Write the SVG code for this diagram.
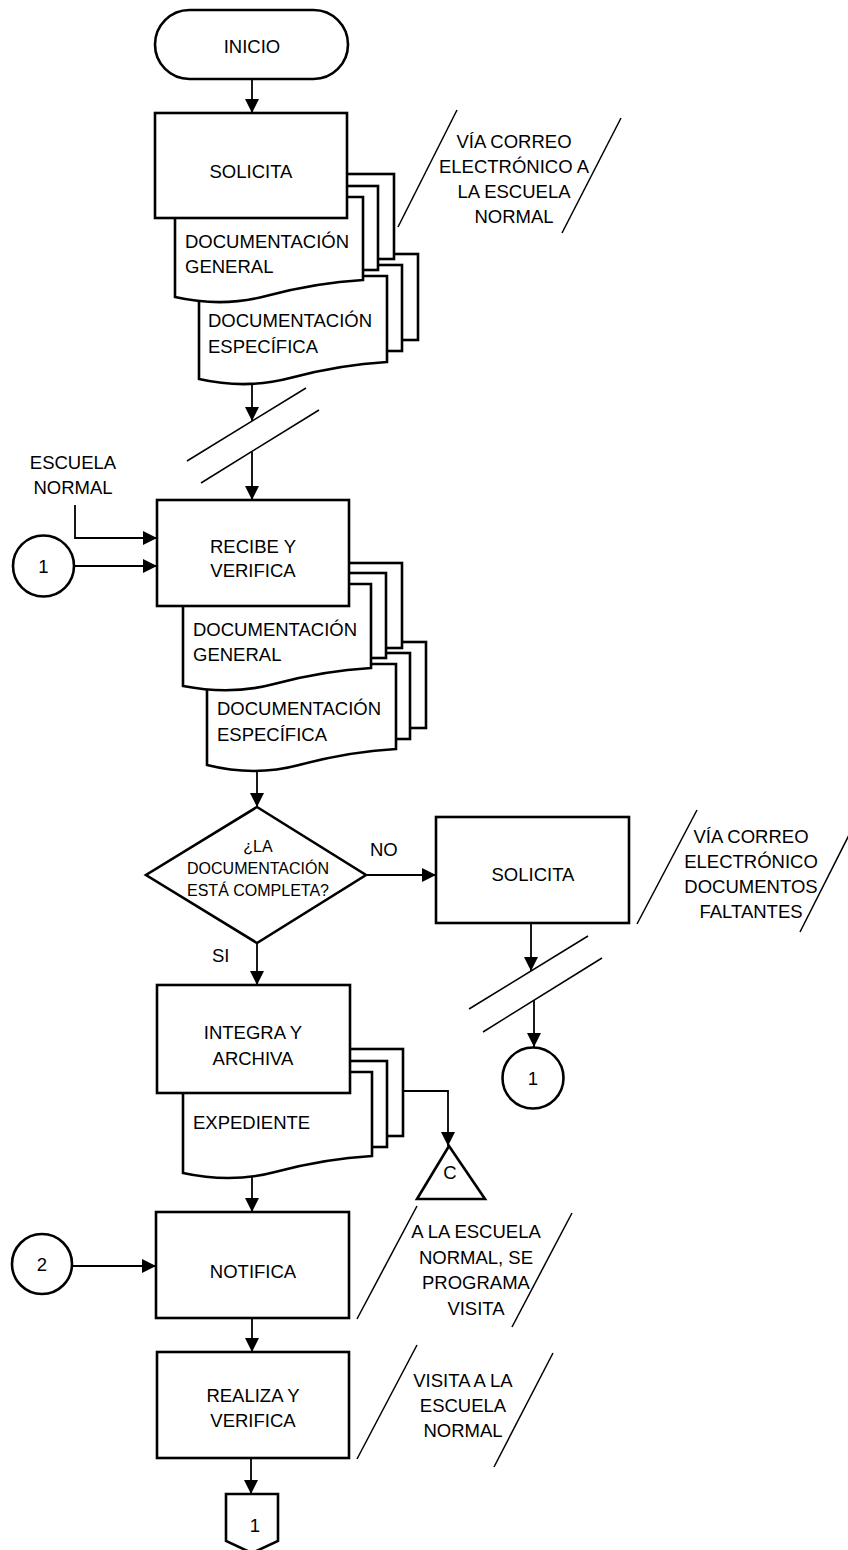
<svg xmlns="http://www.w3.org/2000/svg" width="848" height="1550" viewBox="0 0 848 1550">
<style>
.s{fill:#fff;stroke:#000;stroke-width:2.6}
.c{fill:none;stroke:#000;stroke-width:1.8}
.sl{fill:none;stroke:#000;stroke-width:1.5}
text{font-family:"Liberation Sans",Arial,sans-serif;font-size:18.5px;fill:#000}
.m{text-anchor:middle}
.d{font-size:16px}
</style>
<defs>
<marker id="a" markerUnits="userSpaceOnUse" markerWidth="14" markerHeight="14" refX="14" refY="7" orient="auto">
<path d="M0,0 L14,7 L0,14 Z" fill="#000"/>
</marker>
</defs>
<rect width="848" height="1550" fill="#fff"/>

<g id="connectors">
<line class="c" x1="252" y1="79" x2="252" y2="113" marker-end="url(#a)"/>
<line class="c" x1="252" y1="380" x2="252" y2="421" marker-end="url(#a)"/>
<line class="sl" x1="187" y1="461" x2="306" y2="388"/>
<line class="sl" x1="201" y1="483" x2="319" y2="410"/>
<line class="c" x1="252" y1="452" x2="252" y2="500" marker-end="url(#a)"/>
<polyline class="c" points="75,505 75,538 157,538" marker-end="url(#a)"/>
<line class="c" x1="74" y1="566" x2="157" y2="566" marker-end="url(#a)"/>
<line class="c" x1="257" y1="765" x2="257" y2="807" marker-end="url(#a)"/>
<line class="c" x1="366" y1="875" x2="436" y2="875" marker-end="url(#a)"/>
<line class="c" x1="257" y1="943" x2="257" y2="985" marker-end="url(#a)"/>
<line class="c" x1="531" y1="923" x2="531" y2="971" marker-end="url(#a)"/>
<line class="sl" x1="469" y1="1009" x2="588" y2="936"/>
<line class="sl" x1="483" y1="1032" x2="602" y2="958"/>
<line class="c" x1="534" y1="1000" x2="534" y2="1047" marker-end="url(#a)"/>
<polyline class="c" points="403,1091 448,1091 448,1146" marker-end="url(#a)"/>
<line class="c" x1="252" y1="1174" x2="252" y2="1212" marker-end="url(#a)"/>
<line class="c" x1="72" y1="1266" x2="156" y2="1266" marker-end="url(#a)"/>
<line class="c" x1="252" y1="1318" x2="252" y2="1352" marker-end="url(#a)"/>
<line class="c" x1="251" y1="1458" x2="251" y2="1494" marker-end="url(#a)"/>
</g>

<g id="inicio">
<rect class="s" x="155" y="10" width="193" height="69" rx="34.5"/>
<text class="m" x="252" y="53">INICIO</text>
</g>

<g id="docs1-especifica">
<rect class="s" x="215" y="254" width="203" height="86"/>
<rect class="s" x="207" y="265" width="195" height="86"/>
<path class="s" d="M199,276 L387,276 L387,362 C350,364 320,370 290,378 C260,386 230,386 199,379 Z"/>
<text x="208" y="327">DOCUMENTACIÓN</text>
<text x="208" y="353">ESPECÍFICA</text>
</g>
<g id="docs1-general">
<rect class="s" x="191" y="174" width="203" height="85"/>
<rect class="s" x="183" y="186" width="195" height="84"/>
<path class="s" d="M175,197 L363,197 L363,280 C326,282 296,288 266,296 C236,304 206,304 175,297 Z"/>
<text x="185" y="248">DOCUMENTACIÓN</text>
<text x="185" y="273">GENERAL</text>
</g>
<g id="solicita">
<rect class="s" x="155" y="113" width="192" height="105"/>
<text class="m" x="251" y="178">SOLICITA</text>
</g>
<g id="nota-correo">
<line class="sl" x1="398" y1="227" x2="457" y2="110"/>
<line class="sl" x1="621" y1="118" x2="562" y2="233"/>
<text class="m" x="514" y="148">VÍA CORREO</text>
<text class="m" x="514" y="173">ELECTRÓNICO A</text>
<text class="m" x="514" y="198">LA ESCUELA</text>
<text class="m" x="514" y="223">NORMAL</text>
</g>

<g id="escuela-normal">
<text class="m" x="73" y="469">ESCUELA</text>
<text class="m" x="73" y="494">NORMAL</text>
</g>
<g id="conector1-a">
<circle class="s" cx="43.5" cy="566" r="30.5" stroke-width="2.2"/>
<text class="m" x="43.5" y="573">1</text>
</g>

<g id="docs2-especifica">
<rect class="s" x="223" y="642" width="203" height="86"/>
<rect class="s" x="215" y="653" width="195" height="86"/>
<path class="s" d="M207,664 L396,664 L396,749 C359,751 329,757 299,765 C269,773 239,773 207,765 Z"/>
<text x="217" y="715">DOCUMENTACIÓN</text>
<text x="217" y="741">ESPECÍFICA</text>
</g>
<g id="docs2-general">
<rect class="s" x="199" y="563" width="203" height="85"/>
<rect class="s" x="191" y="573" width="195" height="85"/>
<path class="s" d="M183,584 L371,584 L371,668 C334,670 304,676 274,684 C244,692 214,692 183,686 Z"/>
<text x="193" y="636">DOCUMENTACIÓN</text>
<text x="193" y="661">GENERAL</text>
</g>
<g id="recibe">
<rect class="s" x="157" y="500" width="192" height="106"/>
<text class="m" x="253" y="553">RECIBE Y</text>
<text class="m" x="253" y="577">VERIFICA</text>
</g>

<g id="decision">
<path class="s" d="M257,807 L366,875 L257,943 L146,875 Z"/>
<text class="m d" x="258" y="852">¿LA</text>
<text class="m d" x="258" y="874">DOCUMENTACIÓN</text>
<text class="m d" x="258" y="896">ESTÁ COMPLETA?</text>
<text x="370" y="856">NO</text>
<text x="212" y="962">SI</text>
</g>

<g id="solicita2">
<rect class="s" x="436" y="817" width="193" height="106"/>
<text class="m" x="533" y="881">SOLICITA</text>
</g>
<g id="nota-faltantes">
<line class="sl" x1="637" y1="924" x2="697" y2="810"/>
<line class="sl" x1="849" y1="835" x2="800" y2="932"/>
<text class="m" x="751" y="843">VÍA CORREO</text>
<text class="m" x="751" y="868">ELECTRÓNICO</text>
<text class="m" x="751" y="893">DOCUMENTOS</text>
<text class="m" x="751" y="918">FALTANTES</text>
</g>
<g id="conector1-b">
<circle class="s" cx="533" cy="1078" r="30.5" stroke-width="2.2"/>
<text class="m" x="533" y="1085">1</text>
</g>

<g id="expediente">
<rect class="s" x="199" y="1049" width="204" height="87"/>
<rect class="s" x="191" y="1061" width="196" height="86"/>
<path class="s" d="M183,1072 L372,1072 L372,1156 C335,1158 305,1164 275,1172 C245,1180 215,1180 183,1173 Z"/>
<text x="193" y="1129">EXPEDIENTE</text>
</g>
<g id="integra">
<rect class="s" x="157" y="985" width="193" height="108"/>
<text class="m" x="253" y="1039">INTEGRA Y</text>
<text class="m" x="253" y="1065">ARCHIVA</text>
</g>
<g id="archivo-c">
<path class="s" d="M449,1146 L485,1199 L417,1199 Z" stroke-width="2.2"/>
<text class="m" x="450" y="1179">C</text>
</g>

<g id="conector2">
<circle class="s" cx="42" cy="1264" r="30" stroke-width="2.2"/>
<text class="m" x="42" y="1271">2</text>
</g>
<g id="notifica">
<rect class="s" x="156" y="1212" width="193" height="106"/>
<text class="m" x="253" y="1278">NOTIFICA</text>
</g>
<g id="nota-visita">
<line class="sl" x1="357" y1="1319" x2="417" y2="1206"/>
<line class="sl" x1="572" y1="1213" x2="512" y2="1327"/>
<text class="m" x="476" y="1238">A LA ESCUELA</text>
<text class="m" x="476" y="1264">NORMAL, SE</text>
<text class="m" x="476" y="1289">PROGRAMA</text>
<text class="m" x="476" y="1315">VISITA</text>
</g>
<g id="realiza">
<rect class="s" x="157" y="1352" width="192" height="106"/>
<text class="m" x="253" y="1402">REALIZA Y</text>
<text class="m" x="253" y="1427">VERIFICA</text>
</g>
<g id="nota-visita2">
<line class="sl" x1="357" y1="1459" x2="417" y2="1345"/>
<line class="sl" x1="553" y1="1353" x2="494" y2="1467"/>
<text class="m" x="463" y="1387">VISITA A LA</text>
<text class="m" x="463" y="1412">ESCUELA</text>
<text class="m" x="463" y="1437">NORMAL</text>
</g>
<g id="fuera-pagina-1">
<path class="s" d="M226,1494 L278,1494 L278,1541 L252,1553 L226,1541 Z" stroke-width="2.2"/>
<text class="m" x="255" y="1532">1</text>
</g>
</svg>
